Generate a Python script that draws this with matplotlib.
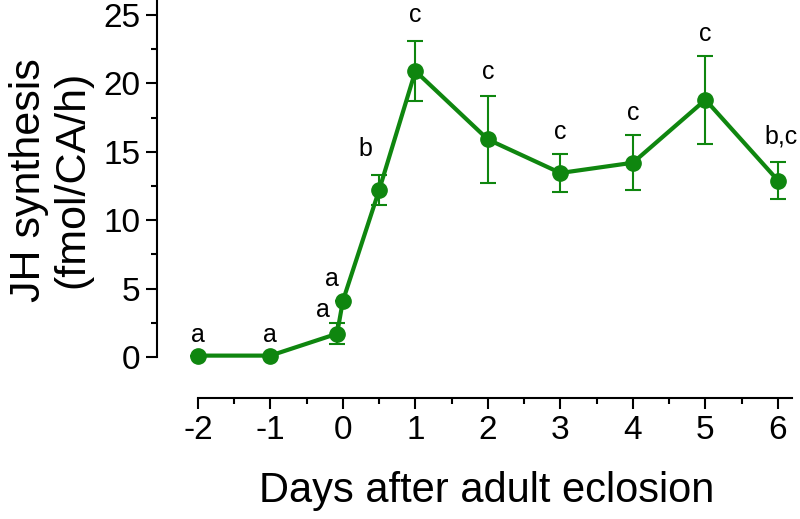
import matplotlib.pyplot as plt

# Data
days = [-2, -1, -0.08, 0, 0.5, 1, 2, 3, 4, 5, 6]
jh_rate = [0.1, 0.1, 1.7, 4.1, 12.2, 20.9, 15.9, 13.45, 14.2, 18.8, 12.9]
jh_sem = [0, 0, 0.75, 0, 1.1, 2.2, 3.2, 1.4, 2.0, 3.2, 1.35]
letters = ['a', 'a', 'a', 'a', 'b', 'c', 'c', 'c', 'c', 'c', 'b,c']

# label offsets in points (dx, dy above top of error bar)
label_dx = [0, 0, -10, -8, -10, 0, 0, 0, 0, 0, 2]
label_dy = [10, 10, 5, 11, 14, 14, 12, 11, 11, 11, 13]

plt.rcParams['font.family'] = ['Liberation Sans', 'DejaVu Sans']
plt.rcParams['axes.unicode_minus'] = False

green = '#0f860f'

fig = plt.figure(figsize=(8, 5.19), dpi=100)
ax = fig.add_axes([0.196, 0.2331, 0.7946, 0.7644])

ax.errorbar(days, jh_rate, yerr=jh_sem, color=green, lw=3, marker='o', ms=11,
            elinewidth=1.5, capsize=6, capthick=1.5, zorder=3)

for x, y, e, t, dx, dy in zip(days, jh_rate, jh_sem, letters, label_dx, label_dy):
    ax.annotate(t, (x, y + e), xytext=(dx, dy), textcoords='offset points',
                ha='center', va='baseline', fontsize=18)

ax.set_xlim(-2.566, 6.2)
ax.set_ylim(-3, 26)

for s in ['top', 'right']:
    ax.spines[s].set_visible(False)
ax.spines['left'].set_bounds(0, 26)
ax.spines['bottom'].set_bounds(-2, 6.2)
ax.spines['left'].set_linewidth(1.5)
ax.spines['bottom'].set_linewidth(1.5)

ax.set_xticks(range(-2, 7))
ax.set_yticks(range(0, 26, 5))
ax.set_yticks([2.5, 7.5, 12.5, 17.5, 22.5], minor=True)
ax.set_xticks([x + 0.5 for x in range(-2, 6)], minor=True)

ax.tick_params(which='major', length=8, width=1.5, labelsize=24, pad=4)
ax.tick_params(which='minor', length=4, width=1.5)

ax.set_ylabel('JH synthesis\n(fmol/CA/h)', fontsize=31, linespacing=1.1)
ax.yaxis.set_label_coords(-0.102, 0.55)
ax.set_xlabel('Days after adult eclosion', fontsize=30)
ax.xaxis.set_label_coords(0.519, -0.185)

fig.savefig('out.png', dpi=100)
